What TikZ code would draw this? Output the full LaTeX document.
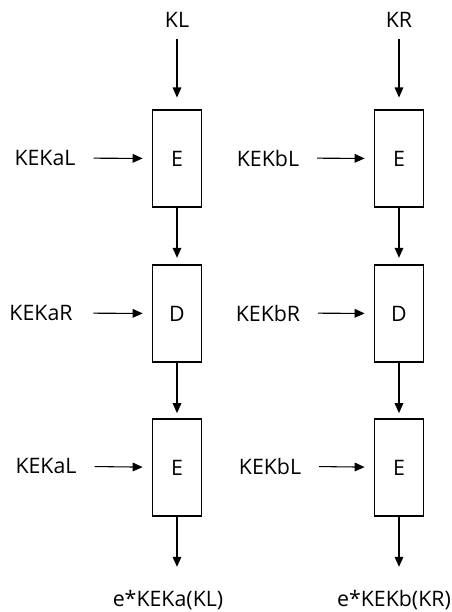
\documentclass[tikz,border=0pt]{standalone}
\usepackage{fontspec}
\setmainfont{Open Sans}
\usetikzlibrary{arrows.meta}
\begin{document}
\begin{tikzpicture}[x=0.75pt,y=-0.75pt,
    font=\fontsize{16}{19}\selectfont,
    blk/.style={draw,line width=0.8pt,minimum width=36.75pt,minimum height=72.75pt,inner sep=0pt},
    arr/.style={line width=0.8pt,-{Triangle[length=7.5pt,width=6.5pt]}}]
        \useasboundingbox (0,0) rectangle (451,612);
        % key halves on top
        \node (kl) at (177, 20) {KL};
        \node (kr) at (399, 20) {KR};
        % left column boxes
        \node[blk] (le1) at (177, 158.5) {E};
        \node[blk] (ld) at (177, 313.5) {D};
        \node[blk] (le2) at (177, 467.5) {E};
        % right column boxes
        \node[blk] (re1) at (399, 158.5) {E};
        \node[blk] (rd) at (399, 313.5) {D};
        \node[blk] (re2) at (399, 467.5) {E};
        % keys from the side
        \node (kal1) at (45, 158) {KEKaL};
        \node (kar) at (41, 313) {KEKaR};
        \node (kal2) at (46, 466) {KEKaL};
        \node (kbl1) at (268, 158) {KEKbL};
        \node (kbr) at (268, 313) {KEKbR};
        \node (kbl2) at (270, 466) {KEKbL};
        % results
        \node (outl) at (168, 600) {e*KEKa(KL)};
        \node (outr) at (394, 600) {e*KEKb(KR)};

        % Draw the arrows down
        \draw[arr,shorten <=5pt,shorten >=9pt] (kl) -- (le1);
        \draw[arr,shorten >=5pt] (le1) -- (ld);
        \draw[arr,shorten >=4pt] (ld) -- (le2);
        \draw[arr,shorten >=14pt] (le2) -- (outl.north -| le2);
        \draw[arr,shorten <=5pt,shorten >=9pt] (kr) -- (re1);
        \draw[arr,shorten >=5pt] (re1) -- (rd);
        \draw[arr,shorten >=4pt] (rd) -- (re2);
        \draw[arr,shorten >=14pt] (re2) -- (outr.north -| re2);

        % Draw the arrows from the side
        \draw[arr,shorten <=10pt,shorten >=7pt] (kal1) -- (le1);
        \draw[arr,shorten <=12pt,shorten >=7pt] (kar) -- (ld);
        \draw[arr,shorten <=10pt,shorten >=7pt] (kal2) -- (le2);
        \draw[arr,shorten <=10pt,shorten >=7pt] (kbl1) -- (re1);
        \draw[arr,shorten <=10pt,shorten >=7pt] (kbr) -- (rd);
        \draw[arr,shorten <=10pt,shorten >=7pt] (kbl2) -- (re2);
    \end{tikzpicture}
\end{document}
